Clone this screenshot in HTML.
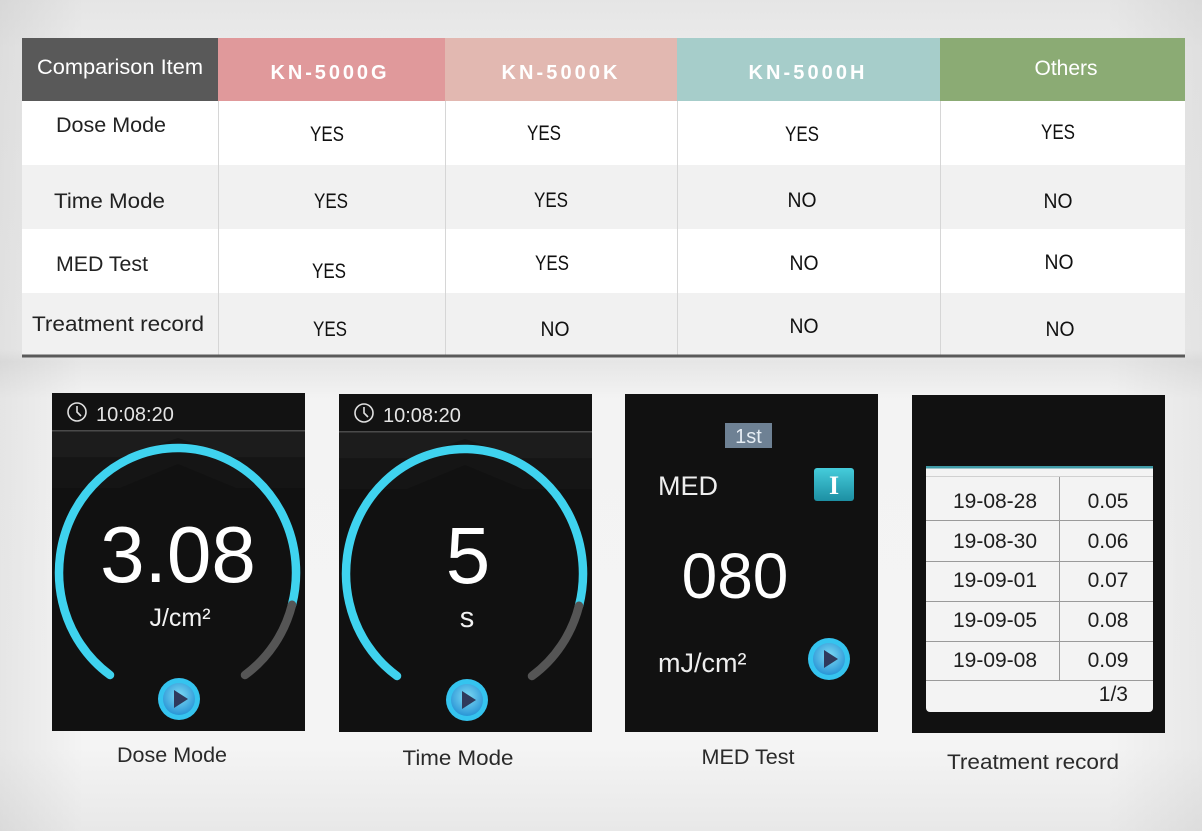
<!DOCTYPE html>
<html><head><meta charset="utf-8"><style>
html,body{margin:0;padding:0;width:1202px;height:831px;overflow:hidden;background:#eee}
svg{display:block}
</style></head><body>
<svg width="1202" height="831" viewBox="0 0 1202 831" xmlns="http://www.w3.org/2000/svg" font-family="Liberation Sans, sans-serif">
<defs>
<linearGradient id="bgv" x1="0" y1="0" x2="0" y2="1">
<stop offset="0" stop-color="#e5e5e5"/>
<stop offset="0.06" stop-color="#ebebeb"/>
<stop offset="0.42" stop-color="#efefef"/>
<stop offset="0.435" stop-color="#e6e6e6"/>
<stop offset="0.48" stop-color="#f3f3f3"/>
<stop offset="0.9" stop-color="#f4f4f4"/>
<stop offset="1" stop-color="#e8e8e8"/>
</linearGradient>
<linearGradient id="bgh" x1="0" y1="0" x2="1" y2="0">
<stop offset="0" stop-color="#000" stop-opacity="0.06"/>
<stop offset="0.07" stop-color="#000" stop-opacity="0.0"/>
<stop offset="0.92" stop-color="#000" stop-opacity="0.0"/>
<stop offset="1" stop-color="#000" stop-opacity="0.05"/>
</linearGradient>
<radialGradient id="play" cx="0.5" cy="0.4" r="0.6">
<stop offset="0" stop-color="#7fdcf5"/>
<stop offset="1" stop-color="#2a95d6"/>
</radialGradient>
<linearGradient id="ibtn" x1="0" y1="0" x2="0" y2="1">
<stop offset="0" stop-color="#45ccdb"/>
<stop offset="1" stop-color="#1d8fa3"/>
</linearGradient>
<g id="playbtn">
<circle cx="0" cy="0" r="21" fill="#35c4ef"/>
<circle cx="0" cy="0" r="16" fill="url(#play)"/>
<polygon points="-5,-9 -5,9 9,0" fill="#2f3a5c"/>
</g>
</defs>

<rect x="0" y="0" width="1202" height="831" fill="url(#bgv)"/>
<rect x="0" y="0" width="1202" height="831" fill="url(#bgh)"/>

<!-- TABLE -->
<rect x="22" y="101" width="1163" height="64" fill="#ffffff"/>
<rect x="22" y="165" width="1163" height="64" fill="#f1f1f1"/>
<rect x="22" y="229" width="1163" height="64" fill="#ffffff"/>
<rect x="22" y="293" width="1163" height="62" fill="#f1f1f1"/>
<rect x="22" y="38" width="196" height="63" fill="#595959"/>
<rect x="218" y="38" width="227" height="63" fill="#e0999b"/>
<rect x="445" y="38" width="232" height="63" fill="#e2b8b1"/>
<rect x="677" y="38" width="263" height="63" fill="#a6cdca"/>
<rect x="940" y="38" width="245" height="63" fill="#8bab74"/>
<g stroke="#d6d6d6" stroke-width="1">
<line x1="218.5" y1="101" x2="218.5" y2="355"/>
<line x1="445.5" y1="101" x2="445.5" y2="355"/>
<line x1="677.5" y1="101" x2="677.5" y2="355"/>
<line x1="940.5" y1="101" x2="940.5" y2="355"/>
</g>
<rect x="22" y="354.5" width="1163" height="3" fill="#5a5a5a"/>

<text x="37" y="74" font-size="21" fill="#ffffff" textLength="166" lengthAdjust="spacingAndGlyphs">Comparison Item</text>
<g font-size="20" font-weight="bold" fill="#ffffff" text-anchor="middle">
<text x="330" y="79" textLength="119" lengthAdjust="spacing" letter-spacing="3">KN-5000G</text>
<text x="561" y="79" textLength="119" lengthAdjust="spacing" letter-spacing="3">KN-5000K</text>
<text x="808" y="79" textLength="119" lengthAdjust="spacing" letter-spacing="3">KN-5000H</text>
</g>
<text x="1066" y="75" font-size="21" fill="#ffffff" text-anchor="middle">Others</text>

<g font-size="21" fill="#222">
<text x="56" y="132" textLength="110" lengthAdjust="spacingAndGlyphs">Dose Mode</text>
<text x="54" y="208" textLength="111" lengthAdjust="spacingAndGlyphs">Time Mode</text>
<text x="56" y="271" textLength="92" lengthAdjust="spacingAndGlyphs">MED Test</text>
<text x="32" y="331" textLength="172" lengthAdjust="spacingAndGlyphs">Treatment record</text>
</g>

<g font-size="21" fill="#111" text-anchor="middle">
<text x="327" y="141" textLength="34" lengthAdjust="spacingAndGlyphs">YES</text>
<text x="544" y="140" textLength="34" lengthAdjust="spacingAndGlyphs">YES</text>
<text x="802" y="141" textLength="34" lengthAdjust="spacingAndGlyphs">YES</text>
<text x="1058" y="139" textLength="34" lengthAdjust="spacingAndGlyphs">YES</text>
<text x="331" y="208" textLength="34" lengthAdjust="spacingAndGlyphs">YES</text>
<text x="551" y="207" textLength="34" lengthAdjust="spacingAndGlyphs">YES</text>
<text x="802" y="207" textLength="29" lengthAdjust="spacingAndGlyphs">NO</text>
<text x="1058" y="208" textLength="29" lengthAdjust="spacingAndGlyphs">NO</text>
<text x="329" y="278" textLength="34" lengthAdjust="spacingAndGlyphs">YES</text>
<text x="552" y="270" textLength="34" lengthAdjust="spacingAndGlyphs">YES</text>
<text x="804" y="270" textLength="29" lengthAdjust="spacingAndGlyphs">NO</text>
<text x="1059" y="269" textLength="29" lengthAdjust="spacingAndGlyphs">NO</text>
<text x="330" y="336" textLength="34" lengthAdjust="spacingAndGlyphs">YES</text>
<text x="555" y="336" textLength="29" lengthAdjust="spacingAndGlyphs">NO</text>
<text x="804" y="333" textLength="29" lengthAdjust="spacingAndGlyphs">NO</text>
<text x="1060" y="336" textLength="29" lengthAdjust="spacingAndGlyphs">NO</text>
</g>

<!-- SCREEN 1: Dose Mode -->
<g>
<rect x="52" y="393" width="253" height="338" fill="#111111"/>
<rect x="52" y="393" width="253" height="37" fill="#121212"/>
<rect x="52" y="430" width="253" height="1.5" fill="#4a4a4a"/>
<rect x="52" y="431.5" width="253" height="26" fill="#1c1c1c"/>
<polygon points="52,458 120,458 178,438 236,458 305,458 305,488 236,488 178,464 120,488 52,488" fill="#151515"/>
<circle cx="77" cy="412" r="9" fill="none" stroke="#e0e0e0" stroke-width="1.6"/>
<polyline points="77,406 77,412 81,416" fill="none" stroke="#e0e0e0" stroke-width="1.6"/>
<text x="96" y="421" font-size="20" fill="#e4e4e4">10:08:20</text>
<path d="M110,675 A118.5,124.6 0 1 1 292,604.8" fill="none" stroke="#3fd3ef" stroke-width="8.5" stroke-linecap="round"/>
<path d="M292,604.8 A118.5,124.6 0 0 1 245,675" fill="none" stroke="#555555" stroke-width="8.5" stroke-linecap="round"/>
<text x="178" y="582" font-size="80" fill="#ffffff" text-anchor="middle">3.08</text>
<text x="180" y="626" font-size="25" fill="#f2f2f2" text-anchor="middle">J/cm²</text>
<use href="#playbtn" x="179" y="699"/>
</g>

<!-- SCREEN 2: Time Mode -->
<g>
<rect x="339" y="394" width="253" height="338" fill="#111111"/>
<rect x="339" y="394" width="253" height="37" fill="#121212"/>
<rect x="339" y="431" width="253" height="1.5" fill="#4a4a4a"/>
<rect x="339" y="432.5" width="253" height="26" fill="#1c1c1c"/>
<polygon points="339,459 407,459 465,439 523,459 592,459 592,489 523,489 465,465 407,489 339,489" fill="#151515"/>
<circle cx="364" cy="413" r="9" fill="none" stroke="#e0e0e0" stroke-width="1.6"/>
<polyline points="364,407 364,413 368,417" fill="none" stroke="#e0e0e0" stroke-width="1.6"/>
<text x="383" y="422" font-size="20" fill="#e4e4e4">10:08:20</text>
<path d="M397,676 A118.5,124.6 0 1 1 579,605.8" fill="none" stroke="#3fd3ef" stroke-width="8.5" stroke-linecap="round"/>
<path d="M579,605.8 A118.5,124.6 0 0 1 532,676" fill="none" stroke="#555555" stroke-width="8.5" stroke-linecap="round"/>
<text x="468" y="583" font-size="80" fill="#ffffff" text-anchor="middle">5</text>
<text x="467" y="627" font-size="29" fill="#f2f2f2" text-anchor="middle">s</text>
<use href="#playbtn" x="467" y="700"/>
</g>

<!-- SCREEN 3: MED Test -->
<g>
<rect x="625" y="394" width="253" height="338" fill="#111111"/>
<rect x="725" y="423" width="47" height="25" fill="#6e8194"/>
<text x="748.5" y="443" font-size="20" fill="#e6edf4" text-anchor="middle">1st</text>
<text x="658" y="495" font-size="27" fill="#eeeeee">MED</text>
<rect x="814" y="468" width="40" height="33" rx="3" fill="url(#ibtn)"/>
<text x="834" y="494" font-size="26" font-weight="bold" fill="#ffffff" text-anchor="middle" style="font-family:'Liberation Serif',serif">I</text>
<text x="735" y="598" font-size="64" fill="#ffffff" text-anchor="middle">080</text>
<text x="658" y="672" font-size="27" fill="#eeeeee">mJ/cm²</text>
<use href="#playbtn" x="829" y="659"/>
</g>

<!-- SCREEN 4: Treatment record -->
<g>
<rect x="912" y="395" width="253" height="338" fill="#111111"/>
<rect x="926" y="466" width="227" height="246" rx="4" fill="#f3f3f3"/>
<rect x="926" y="466" width="227" height="8" fill="#f3f3f3"/>
<rect x="926" y="466" width="227" height="2.5" fill="#3f9aa6"/>
<g stroke="#9a9a9a" stroke-width="1">
<line x1="926" y1="476.5" x2="1153" y2="476.5" stroke="#d0d0d0"/>
<line x1="926" y1="520.5" x2="1153" y2="520.5"/>
<line x1="926" y1="561.5" x2="1153" y2="561.5"/>
<line x1="926" y1="601.5" x2="1153" y2="601.5"/>
<line x1="926" y1="641.5" x2="1153" y2="641.5"/>
<line x1="926" y1="680.5" x2="1153" y2="680.5"/>
<line x1="1059.5" y1="477" x2="1059.5" y2="680"/>
</g>
<g font-size="21" fill="#1e1e1e" text-anchor="middle">
<text x="995" y="508">19-08-28</text>
<text x="1108" y="508">0.05</text>
<text x="995" y="548">19-08-30</text>
<text x="1108" y="548">0.06</text>
<text x="995" y="587">19-09-01</text>
<text x="1108" y="587">0.07</text>
<text x="995" y="627">19-09-05</text>
<text x="1108" y="627">0.08</text>
<text x="995" y="667">19-09-08</text>
<text x="1108" y="667">0.09</text>
</g>
<text x="1128" y="701" font-size="21" fill="#1e1e1e" text-anchor="end">1/3</text>
</g>

<!-- captions -->
<g font-size="21" fill="#2a2a2a" text-anchor="middle">
<text x="172" y="762" textLength="110" lengthAdjust="spacingAndGlyphs">Dose Mode</text>
<text x="458" y="765" textLength="111" lengthAdjust="spacingAndGlyphs">Time Mode</text>
<text x="748" y="764" textLength="93" lengthAdjust="spacingAndGlyphs">MED Test</text>
<text x="1033" y="769" textLength="172" lengthAdjust="spacingAndGlyphs">Treatment record</text>
</g>
</svg>
</body></html>
